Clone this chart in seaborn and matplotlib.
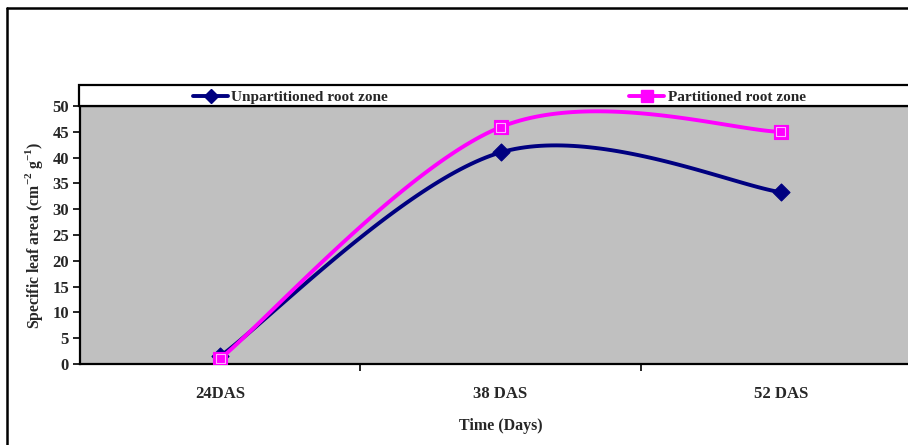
import numpy as np
import pandas as pd
import matplotlib
matplotlib.use("Agg")
import matplotlib.pyplot as plt
from matplotlib.lines import Line2D
from matplotlib.patches import Rectangle
import seaborn as sns

# Sampling dates and specific leaf area values
stages = ["24DAS", "38 DAS", "52 DAS"]
unpartitioned = [1.5, 41.0, 33.3]
partitioned = [1.0, 45.9, 45.0]

NAVY = "#000080"
MAGENTA = "#FF00FF"


def smooth_curve(xs, ys, n=60):
    """Piecewise cubic Bezier through the points (spreadsheet-style smoothing)."""
    pts = np.column_stack([xs, ys]).astype(float)
    m = len(pts)
    out = []
    for i in range(m - 1):
        p_prev = pts[max(i - 1, 0)]
        p0 = pts[i]
        p1 = pts[i + 1]
        p_next = pts[min(i + 2, m - 1)]
        c1 = p0 + (p1 - p_prev) / 6.0
        c2 = p1 - (p_next - p0) / 6.0
        t = np.linspace(0, 1, n)[:, None]
        seg = ((1 - t) ** 3) * p0 + 3 * ((1 - t) ** 2) * t * c1 + 3 * (1 - t) * t ** 2 * c2 + t ** 3 * p1
        out.append(seg if i == 0 else seg[1:])
    return np.vstack(out)


sns.set_theme(style="white")
plt.rcParams["font.family"] = ["Liberation Serif", "DejaVu Serif"]
plt.rcParams["font.weight"] = "bold"
plt.rcParams["mathtext.fontset"] = "custom"
plt.rcParams["mathtext.rm"] = "Liberation Serif:bold"
plt.rcParams["mathtext.bf"] = "Liberation Serif:bold"

fig = plt.figure(figsize=(9.08, 4.45), dpi=100)
fig.patch.set_facecolor("white")
ax = fig.add_axes([80 / 908, 81 / 445, 841 / 908, 258 / 445])
ax.set_facecolor("#C0C0C0")

xpos = np.arange(len(stages))
frames = []
for name, vals in [("Unpartitioned root zone", unpartitioned), ("Partitioned root zone", partitioned)]:
    curve = smooth_curve(xpos, vals)
    frames.append(pd.DataFrame({"x": curve[:, 0], "y": curve[:, 1], "series": name}))
curves = pd.concat(frames, ignore_index=True)

sns.lineplot(data=curves, x="x", y="y", hue="series", sort=False, estimator=None,
             palette={"Unpartitioned root zone": NAVY, "Partitioned root zone": MAGENTA},
             linewidth=2.8, legend=False, ax=ax)

pts_u = pd.DataFrame({"x": xpos, "y": unpartitioned})
pts_p = pd.DataFrame({"x": xpos, "y": partitioned})
sns.scatterplot(data=pts_u, x="x", y="y", marker="D", s=75, color=NAVY,
                edgecolor=NAVY, linewidth=0.8, ax=ax, zorder=5)
sns.scatterplot(data=pts_p, x="x", y="y", marker="s", s=110, color=MAGENTA,
                edgecolor=MAGENTA, linewidth=0.8, ax=ax, zorder=5)
# light inner edge of the square markers
sns.scatterplot(data=pts_p, x="x", y="y", marker="s", s=40, color="none",
                edgecolor="#FFB0FF", linewidth=0.8, ax=ax, zorder=6)

ax.set_xlim(-0.5, 2.5)
ax.set_ylim(0, 50)
ax.set_yticks(np.arange(0, 51, 5))
ax.set_xticks(xpos)
ax.set_xticklabels(stages, fontsize=12, fontweight="bold")
ax.set_xticks([0.5, 1.5], minor=True)
ax.tick_params(axis="x", which="major", length=0, pad=16)
ax.tick_params(axis="x", which="minor", length=5, width=1.2, color="black", direction="out", bottom=True)
ax.tick_params(axis="y", length=5, width=1.2, color="black", direction="out", left=True, labelsize=12, pad=3)
for lab in ax.get_yticklabels():
    lab.set_fontweight("bold")

ax.set_xlabel("Time (Days)", fontsize=11.5, fontweight="bold", labelpad=11)
ax.set_ylabel(r"Specific leaf area (cm$^{-2}$ g$^{-1}$)", fontsize=11.3, fontweight="bold", labelpad=5)

for side in ["left", "bottom", "top"]:
    ax.spines[side].set_visible(True)
    ax.spines[side].set_color("black")
    ax.spines[side].set_linewidth(1.6)
ax.spines["right"].set_visible(False)

# legend box above the plotting area
fig.patches.append(Rectangle((79 / 908, 339 / 445), 840 / 908, 21 / 445, transform=fig.transFigure,
                             facecolor="white", edgecolor="black", linewidth=1.6, zorder=0))
handles = [
    Line2D([], [], color=NAVY, lw=2.8, marker="D", markersize=7, markerfacecolor=NAVY, markeredgecolor=NAVY),
    Line2D([], [], color=MAGENTA, lw=2.8, marker="s", markersize=9, markerfacecolor=MAGENTA, markeredgecolor=MAGENTA),
]
fig.legend(handles, ["Unpartitioned root zone", "Partitioned root zone"], ncol=2,
           loc="center left", bbox_to_anchor=(193 / 908, 348 / 445), frameon=False,
           prop={"family": "Liberation Serif", "weight": "bold", "size": 11},
           columnspacing=15.8, handlelength=2.3, handletextpad=0.2, borderpad=0, borderaxespad=0)

# outer frame of the figure
fig.add_artist(Line2D([7 / 908, 7 / 908], [0, 437 / 445], transform=fig.transFigure, color="black", lw=1.8))
fig.add_artist(Line2D([7 / 908, 1], [437 / 445, 437 / 445], transform=fig.transFigure, color="black", lw=1.8))

fig.savefig("out.png", dpi=100, facecolor="white")
